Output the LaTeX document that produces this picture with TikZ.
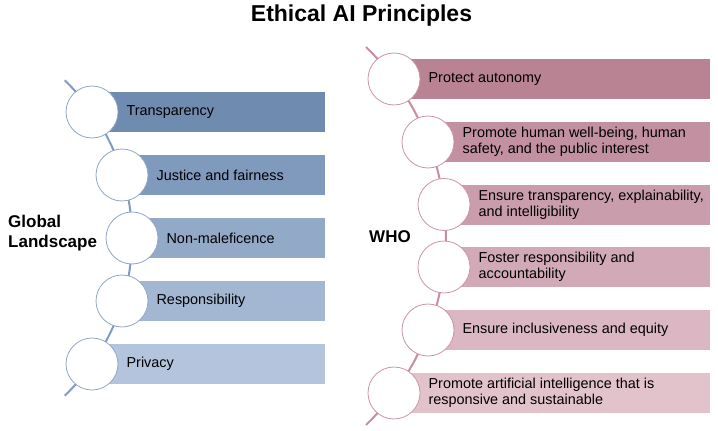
\documentclass[tikz,border=0pt]{standalone}
\usepackage{fontspec}
\setmainfont{Liberation Sans}
\usepackage{tikz}
\usetikzlibrary{
	positioning
}
\definecolor{gline}{RGB}{127,155,194}
\definecolor{gring}{RGB}{143,167,201}
\definecolor{gA}{RGB}{111,139,176}
\definecolor{gB}{RGB}{128,154,189}
\definecolor{gC}{RGB}{146,169,199}
\definecolor{gD}{RGB}{163,183,210}
\definecolor{gE}{RGB}{180,196,220}
\definecolor{wline}{RGB}{201,141,161}
\definecolor{wring}{RGB}{204,148,166}
\definecolor{wA}{RGB}{186,131,148}
\definecolor{wB}{RGB}{194,144,161}
\definecolor{wC}{RGB}{202,157,172}
\definecolor{wD}{RGB}{210,170,183}
\definecolor{wE}{RGB}{218,183,194}
\definecolor{wF}{RGB}{226,195,204}
\tikzset{
	bar/.style={
		rectangle,anchor=west,minimum height=40pt,inner sep=0pt
	},
	ring/.style={
		circle,draw=#1,fill=white,minimum size=52pt,inner sep=0pt,line width=.8pt
	},
	item/.style={
		right=8pt of #1,align=left,inner sep=0pt,font=\fontsize{14.4}{16}\selectfont
	},
	heading/.style={
		align=left,anchor=west,inner sep=0pt,font=\bfseries\fontsize{17}{20}\selectfont
	}
}

\begin{document}
\begin{tikzpicture}[x=1pt,y=-1pt]
		\useasboundingbox (0,0) rectangle (718,431);

		\node[font=\bfseries\fontsize{23}{26}\selectfont] (title) at (361.5,16) {Ethical AI Principles};

		\coordinate (gtop) at (64.7,80.3);
		\draw[gline,line width=2pt] (gtop) arc[start angle=-46.2,end angle=46.2,radius=218.5];

		\node[bar,fill=gA,minimum width=233pt] (gb1) at (92,112)  {};
		\node[bar,fill=gB,minimum width=203pt] (gb2) at (122,175) {};
		\node[bar,fill=gC,minimum width=193pt] (gb3) at (132,238) {};
		\node[bar,fill=gD,minimum width=203pt] (gb4) at (122,301) {};
		\node[bar,fill=gE,minimum width=233pt] (gb5) at (92,364)  {};

		\node[ring=gring] (g1) at (gb1.west) {};
		\node[ring=gring] (g2) at (gb2.west) {};
		\node[ring=gring] (g3) at (gb3.west) {};
		\node[ring=gring] (g4) at (gb4.west) {};
		\node[ring=gring] (g5) at (gb5.west) {};

		\node[item=g1] (gt1) {Transparency};
		\node[item=g2] (gt2) {Justice and fairness};
		\node[item=g3] (gt3) {Non-maleficence};
		\node[item=g4] (gt4) {Responsibility};
		\node[item=g5] (gt5) {Privacy};

		\node[heading] (global) at (8,233) {Global\\Landscape};

		\coordinate (wtop) at (366.1,47.1);
		\draw[wline,line width=2pt] (wtop) arc[start angle=-45.8,end angle=45.8,radius=263.5];

		\node[bar,fill=wA,minimum width=316pt] (wb1) at (394,79)    {};
		\node[bar,fill=wB,minimum width=282pt] (wb2) at (428,142)   {};
		\node[bar,fill=wC,minimum width=266pt] (wb3) at (444,204.5) {};
		\node[bar,fill=wD,minimum width=266pt] (wb4) at (444,267)   {};
		\node[bar,fill=wE,minimum width=282pt] (wb5) at (428,330)   {};
		\node[bar,fill=wF,minimum width=316pt] (wb6) at (394,393)   {};

		\node[ring=wring] (w1) at (wb1.west) {};
		\node[ring=wring] (w2) at (wb2.west) {};
		\node[ring=wring] (w3) at (wb3.west) {};
		\node[ring=wring] (w4) at (wb4.west) {};
		\node[ring=wring] (w5) at (wb5.west) {};
		\node[ring=wring] (w6) at (wb6.west) {};

		\node[item=w1] (wt1) {Protect autonomy};
		\node[item=w2] (wt2) {Promote human well-being, human\\safety, and the public interest};
		\node[item=w3] (wt3) {Ensure transparency, explainability,\\and intelligibility};
		\node[item=w4] (wt4) {Foster responsibility and\\accountability};
		\node[item=w5] (wt5) {Ensure inclusiveness and equity};
		\node[item=w6] (wt6) {Promote artificial intelligence that is\\responsive and sustainable};

		\node[heading] (who) at (369,236.5) {WHO};
	\end{tikzpicture}
\end{document}
